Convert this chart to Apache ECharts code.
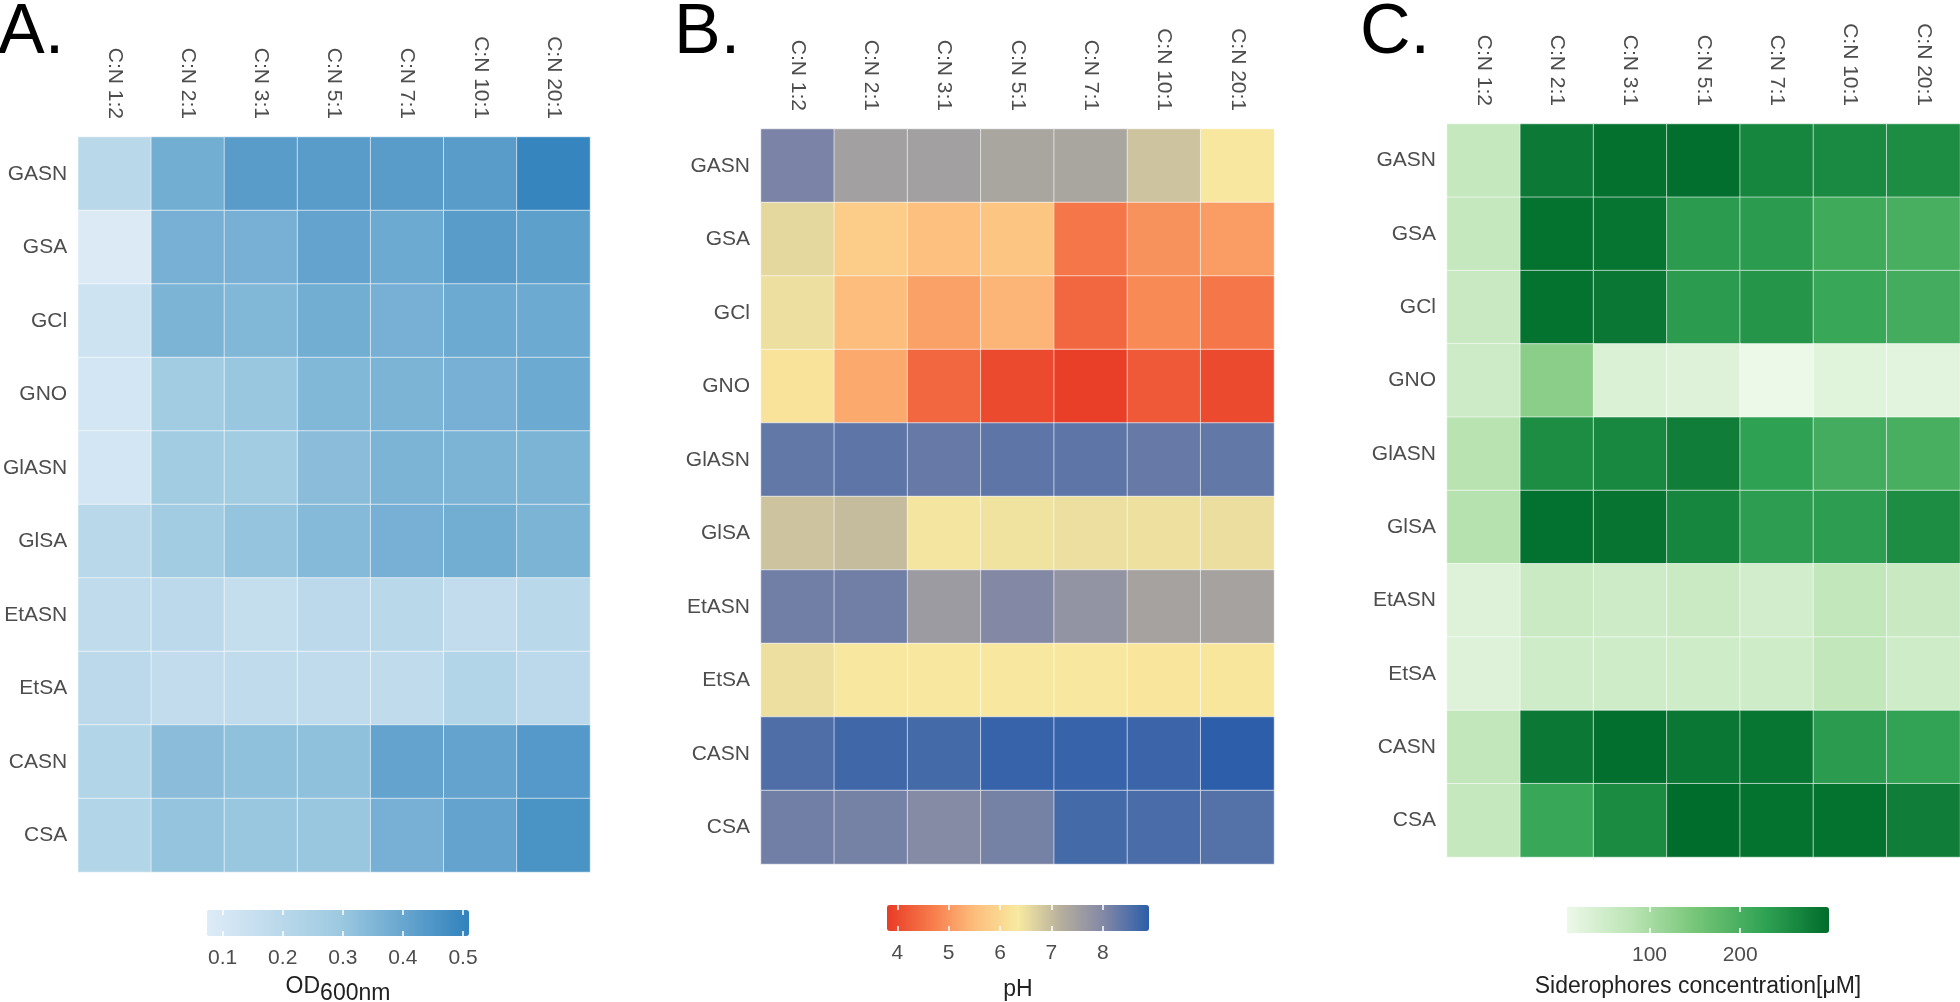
<!DOCTYPE html>
<html>
<head>
<meta charset="utf-8">
<script src="https://cdn.jsdelivr.net/npm/echarts@6/dist/echarts.min.js"></script>
<style>
  html, body { margin: 0; padding: 0; background: #fff; }
  #chart { width: 1960px; height: 1002px; }
</style>
</head>
<body>
<div id="chart"></div>
<script>
const cols = ['C:N 1:2', 'C:N 2:1', 'C:N 3:1', 'C:N 5:1', 'C:N 7:1', 'C:N 10:1', 'C:N 20:1'];
const rows = ['GASN', 'GSA', 'GCl', 'GNO', 'GlASN', 'GlSA', 'EtASN', 'EtSA', 'CASN', 'CSA'];

// A. OD600nm, one row per medium
const od = [
  [0.20, 0.38, 0.43, 0.43, 0.43, 0.43, 0.50],
  [0.08, 0.37, 0.37, 0.41, 0.39, 0.43, 0.42],
  [0.13, 0.36, 0.35, 0.38, 0.37, 0.39, 0.39],
  [0.11, 0.28, 0.30, 0.35, 0.36, 0.37, 0.39],
  [0.11, 0.28, 0.28, 0.33, 0.36, 0.36, 0.36],
  [0.20, 0.28, 0.31, 0.34, 0.37, 0.38, 0.36],
  [0.18, 0.19, 0.16, 0.19, 0.20, 0.17, 0.20],
  [0.19, 0.17, 0.18, 0.18, 0.18, 0.22, 0.19],
  [0.22, 0.33, 0.32, 0.32, 0.41, 0.41, 0.44],
  [0.22, 0.31, 0.30, 0.30, 0.37, 0.41, 0.46]
];

// B. pH
const ph = [
  [8.1, 7.5, 7.5, 7.4, 7.4, 6.9, 6.3],
  [6.6, 5.8, 5.55, 5.65, 4.6, 4.95, 5.1],
  [6.5, 5.5, 5.15, 5.4, 4.4, 4.85, 4.6],
  [6.2, 5.25, 4.4, 4.0, 3.85, 4.2, 4.0],
  [8.35, 8.4, 8.3, 8.4, 8.4, 8.3, 8.35],
  [6.9, 7.0, 6.4, 6.45, 6.5, 6.48, 6.52],
  [8.2, 8.2, 7.6, 8.0, 7.75, 7.45, 7.45],
  [6.5, 6.3, 6.32, 6.32, 6.3, 6.25, 6.28],
  [8.55, 8.7, 8.65, 8.8, 8.8, 8.75, 8.9],
  [8.2, 8.15, 7.95, 8.15, 8.65, 8.6, 8.5]
];

// C. siderophores concentration [µM]
const sid = [
  [65, 280, 292, 295, 265, 260, 255],
  [65, 290, 287, 235, 235, 210, 200],
  [62, 290, 283, 235, 245, 218, 205],
  [55, 130, 35, 30, 10, 28, 25],
  [82, 255, 262, 275, 228, 205, 200],
  [85, 293, 288, 265, 232, 232, 255],
  [32, 58, 56, 58, 48, 72, 62],
  [30, 52, 52, 53, 52, 70, 54],
  [72, 282, 295, 283, 286, 235, 225],
  [66, 218, 258, 298, 290, 290, 275]
];

const odTicks = [0.1, 0.2, 0.3, 0.4, 0.5];
const phTicks = [4, 5, 6, 7, 8];
const sidTicks = [100, 200];

const FONT = '"Liberation Sans", Arial, Helvetica, sans-serif';
const LABEL = '#4d4d4d';

const panels = [
  { grid: { left: 76, top: 137, width: 514, height: 735 }, bar: { left: 207, top: 910 },
    min: 0.074, max: 0.51, ticks: odTicks, values: od,
    colors: ['#deebf7', '#9ecae1', '#3182bd'] },
  { grid: { left: 761, top: 129, width: 513, height: 735 }, bar: { left: 887, top: 905 },
    min: 3.8, max: 8.9, ticks: phTicks, values: ph,
    colors: ['#e83b26', '#f67a4a', '#fdbd7c', '#f8eaa0', '#b5ae9d', '#8086a6', '#2c5ea9'] },
  { grid: { left: 1447, top: 124, width: 513, height: 733 }, bar: { left: 1567, top: 907 },
    min: 9, max: 298, ticks: sidTicks, values: sid,
    colors: ['#edf8e9', '#bae4b3', '#74c476', '#31a354', '#006d2c'] }
];

const BAR_LEN = 262, BAR_W = 26;

const grid = [], xAxis = [], yAxis = [], series = [], visualMap = [];

panels.forEach((p, i) => {
  grid.push(p.grid);
  xAxis.push({
    type: 'category', gridIndex: i, data: cols, position: 'top',
    axisLine: { show: false }, axisTick: { show: false }, splitLine: { show: false },
    axisLabel: { rotate: 90, margin: 18, fontSize: 21, color: LABEL, fontFamily: FONT }
  });
  yAxis.push({
    type: 'category', gridIndex: i, data: rows, inverse: true,
    axisLine: { show: false }, axisTick: { show: false }, splitLine: { show: false },
    axisLabel: { margin: 11, fontSize: 21, color: LABEL, fontFamily: FONT }
  });
  const data = [];
  p.values.forEach((row, r) => row.forEach((v, c) => data.push([c, r, v])));
  series.push({
    type: 'heatmap', xAxisIndex: i, yAxisIndex: i, data: data,
    itemStyle: { borderColor: 'rgba(255,255,255,0.6)', borderWidth: 1 },
    emphasis: { disabled: true }
  });
  visualMap.push({
    type: 'continuous', seriesIndex: i, min: p.min, max: p.max,
    orient: 'horizontal', left: p.bar.left, top: p.bar.top,
    itemWidth: BAR_W, itemHeight: BAR_LEN, padding: 0,
    calculable: false, hoverLink: false, text: null,
    inRange: { color: p.colors }
  });
});

// colour bar scales
panels.forEach((p, i) => {
  const g = 3 + i;
  grid.push({ left: p.bar.left, top: p.bar.top, width: BAR_LEN, height: BAR_W });
  yAxis.push({ type: 'value', gridIndex: g, min: 0, max: 1, show: false });
  xAxis.push({
    type: 'value', gridIndex: g, min: p.min, max: p.max, position: 'bottom', z: 10,
    axisLine: { show: false }, splitLine: { show: false },
    axisTick: { show: true, inside: true, length: 5, customValues: p.ticks,
      lineStyle: { color: '#ffffff', width: 1.5 } },
    axisLabel: { customValues: p.ticks, margin: 12, fontSize: 21, color: LABEL, fontFamily: FONT }
  });
});
panels.forEach((p, i) => {
  xAxis.push({
    type: 'value', gridIndex: 3 + i, min: p.min, max: p.max, position: 'top', z: 10,
    axisLine: { show: false }, splitLine: { show: false },
    axisTick: { show: true, inside: true, length: 5, customValues: p.ticks,
      lineStyle: { color: '#ffffff', width: 1.5 } },
    axisLabel: { show: false }
  });
});

const letter = (txt, x) => ({
  type: 'text', x: x, y: 34,
  style: { text: txt, fontSize: 70, fontFamily: FONT, fill: '#000', verticalAlign: 'middle' }
});
const caption = (txt, cx, cy, rich) => ({
  type: 'text', x: cx, y: cy,
  style: { text: txt, fontSize: 23, fontFamily: FONT, fill: '#222', align: 'center',
    verticalAlign: 'middle', rich: rich || {} }
});

const chart = echarts.init(document.getElementById('chart'), null, { renderer: 'canvas' });
chart.setOption({
  backgroundColor: '#ffffff',
  animation: false,
  textStyle: { fontFamily: FONT },
  grid: grid,
  xAxis: xAxis,
  yAxis: yAxis,
  visualMap: visualMap,
  series: series,
  graphic: [
    letter('A.', -2),
    letter('B.', 674),
    letter('C.', 1360),
    caption('{n|OD}{s|600nm}', 338, 987, {
      n: { fontSize: 23, fontFamily: FONT, fill: '#222' },
      s: { fontSize: 23, fontFamily: FONT, fill: '#222', padding: [14, 0, 0, 0] }
    }),
    caption('pH', 1018, 990),
    caption('Siderophores concentration[μM]', 1698, 987)
  ]
});
</script>
</body>
</html>
